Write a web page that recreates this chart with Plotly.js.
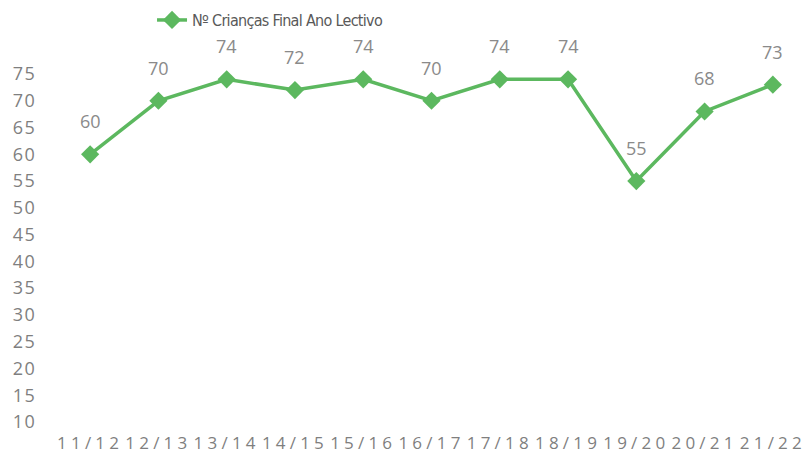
<!DOCTYPE html>
<html>
<head>
<meta charset="utf-8">
<script src="https://cdn.plot.ly/plotly-3.0.1.min.js"></script>
<style>
html,body{margin:0;padding:0;background:#fff;}
#chart{width:809px;height:459px;}
.xtick text{letter-spacing:4.2px;}
.ytick text{letter-spacing:1.5px;}
.legendtext{letter-spacing:-0.7px;}
</style>
</head>
<body>
<div id="chart"></div>
<script>
const seriesName = "Nº Crianças Final Ano Lectivo";
const categories = ["11/12","12/13","13/14","14/15","15/16","16/17","17/18","18/19","19/20","20/21","21/22"];
const values = [60, 70, 74, 72, 74, 70, 74, 74, 55, 68, 73];
const yTicks = [10,15,20,25,30,35,40,45,50,55,60,65,70,75];

const green = "#5cb85f";

const trace = {
  type: "scatter",
  mode: "lines+markers",
  x: categories,
  y: values,
  name: seriesName,
  line: {color: green, width: 3.5},
  marker: {symbol: "diamond", size: 14, color: green},
  cliponaxis: false,
  showlegend: true
};

const annotations = categories.map((c, i) => ({
  x: c, y: values[i], xref: "x", yref: "y",
  text: String(values[i]), showarrow: false,
  yshift: 33,
  font: {family: "Open Sans, sans-serif", size: 18, color: "#8a8a8a"}
}));

const layout = {
  width: 809, height: 459,
  margin: {l: 56, r: 2, t: 74, b: 37, autoexpand: false},
  paper_bgcolor: "#fff", plot_bgcolor: "#fff",
  showlegend: true,
  legend: {
    orientation: "h", x: 0.285, xanchor: "center", xref: "paper",
    y: 1.155, yanchor: "middle", yref: "paper",
    font: {family: "Liberation Sans Narrow, DejaVu Sans Condensed, Open Sans, sans-serif", size: 16, color: "#595959"},
    itemwidth: 30
  },
  xaxis: {
    type: "category",
    range: [-0.5, 10.5],
    showgrid: false, zeroline: false, showline: false,
    ticks: "outside", ticklen: 6, tickcolor: "rgba(0,0,0,0)",
    tickfont: {family: "Open Sans, sans-serif", size: 17, color: "#7f7f7f"},
    tickangle: 0
  },
  yaxis: {
    range: [10, 75],
    tickvals: yTicks,
    ticktext: yTicks.map(String),
    showgrid: false, zeroline: false, showline: false,
    ticks: "outside", ticklen: 15, tickcolor: "rgba(0,0,0,0)",
    tickfont: {family: "Open Sans, sans-serif", size: 18, color: "#7f7f7f"}
  },
  annotations: annotations
};

Plotly.newPlot("chart", [trace], layout, {displayModeBar: false, staticPlot: true});
</script>
</body>
</html>
